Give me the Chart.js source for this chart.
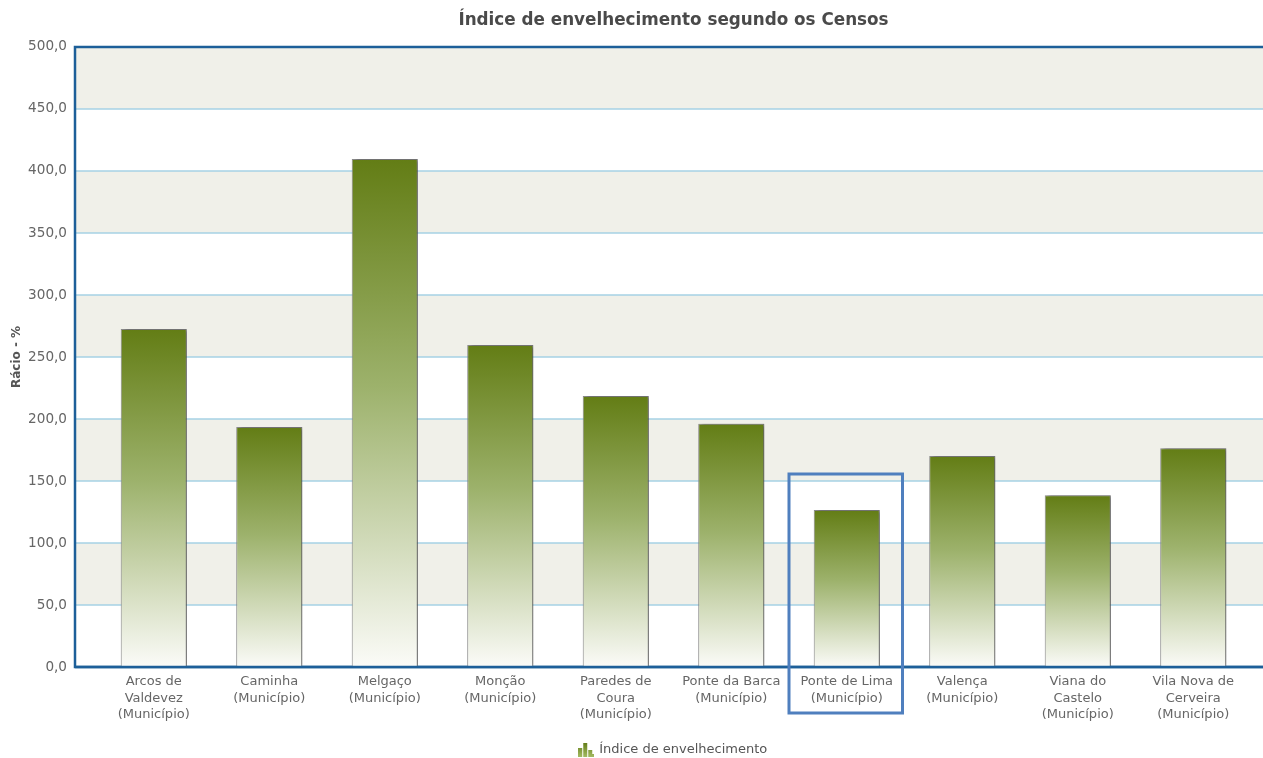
<!DOCTYPE html>
<html>
<head>
<meta charset="utf-8">
<title>Índice de envelhecimento segundo os Censos</title>
<script src="https://cdn.jsdelivr.net/npm/chart.js@4.4.1/dist/chart.umd.min.js"></script>
<style>
  html, body { margin: 0; padding: 0; background: #fff; }
  #wrap { width: 1263px; height: 758px; position: relative; }
</style>
</head>
<body>
<div id="wrap"><canvas id="chart"></canvas></div>
<script>
// data
const municipios = [
  ['Arcos de', 'Valdevez', '(Município)'],
  ['Caminha', '(Município)'],
  ['Melgaço', '(Município)'],
  ['Monção', '(Município)'],
  ['Paredes de', 'Coura', '(Município)'],
  ['Ponte da Barca', '(Município)'],
  ['Ponte de Lima', '(Município)'],
  ['Valença', '(Município)'],
  ['Viana do', 'Castelo', '(Município)'],
  ['Vila Nova de', 'Cerveira', '(Município)']
];
const indiceEnvelhecimento = [272.6, 193.5, 409.7, 259.7, 218.5, 196.2, 126.6, 170.2, 138.5, 176.4];
const yMin = 0;
const yMax = 500;
const yStep = 50;
const destaque = 6; // Ponte de Lima is boxed in blue

const FONT = '"DejaVu Sans", Verdana, sans-serif';
const TEXT_GREY = '#666666';

// frame sticks out a bit beyond the bars area
const frameLeft = 21;
const frameRight = 12;

// small bar-chart icon for the legend
function legendIcon() {
  const c = document.createElement('canvas');
  c.width = 16; c.height = 15;
  const g = c.getContext('2d');
  const grad = g.createLinearGradient(0, 0, 0, 15);
  grad.addColorStop(0, '#5f7a14');
  grad.addColorStop(1, '#a4bb62');
  g.fillStyle = grad;
  g.fillRect(0, 6, 4, 9);
  g.fillRect(5, 1, 4, 14);
  g.fillRect(10, 8, 4, 7);
  g.fillRect(14, 12, 2, 3);
  return c;
}

function barGradient(context) {
  const chart = context.chart;
  const {chartArea, scales} = chart;
  if (!chartArea || context.type !== 'data') return '#8ea25a';
  const top = scales.y.getPixelForValue(context.raw);
  const base = scales.y.getPixelForValue(0);
  const g = chart.ctx.createLinearGradient(0, top, 0, base);
  g.addColorStop(0, '#637d15');
  g.addColorStop(0.45, '#9db26c');
  g.addColorStop(1, '#fbfbf8');
  return g;
}

// bands, gridlines and the dark blue frame
const plotFrame = {
  id: 'plotFrame',
  beforeDatasetsDraw(chart) {
    const {ctx, chartArea, scales} = chart;
    const y = scales.y;
    const left = chartArea.left - frameLeft;
    const right = chartArea.right + frameRight;
    ctx.save();
    // alternating bands, beige on top
    for (let v = yMax, i = 0; v > yMin; v -= yStep, i++) {
      const t = y.getPixelForValue(v);
      const b = y.getPixelForValue(v - yStep);
      ctx.fillStyle = i % 2 === 0 ? '#f0f0e9' : '#ffffff';
      ctx.fillRect(left, t, right - left, b - t);
    }
    ctx.strokeStyle = '#a6d2e4';
    ctx.lineWidth = 1.6;
    for (let v = yMin + yStep; v < yMax; v += yStep) {
      const py = y.getPixelForValue(v);
      ctx.beginPath();
      ctx.moveTo(left, py);
      ctx.lineTo(right, py);
      ctx.stroke();
    }
    ctx.strokeStyle = '#1d5f99';
    ctx.lineWidth = 2.5;
    const top = y.getPixelForValue(yMax);
    const bottom = y.getPixelForValue(yMin);
    ctx.beginPath();
    ctx.moveTo(right, top);
    ctx.lineTo(left, top);
    ctx.lineTo(left, bottom);
    ctx.lineTo(right, bottom);
    ctx.stroke();
    ctx.restore();

    // soft shadow on the right of the bars
    ctx.save();
    ctx.shadowColor = 'rgba(0,0,0,0.45)';
    ctx.shadowBlur = 4;
    ctx.shadowOffsetX = 3;
    ctx.shadowOffsetY = 0;
  },
  afterDatasetsDraw(chart) {
    chart.ctx.restore();
    // redraw baseline over bar bottoms
    const {ctx, chartArea, scales} = chart;
    const bottom = scales.y.getPixelForValue(yMin);
    ctx.save();
    ctx.strokeStyle = '#1d5f99';
    ctx.lineWidth = 2.5;
    ctx.beginPath();
    ctx.moveTo(chartArea.left - frameLeft, bottom);
    ctx.lineTo(chartArea.right + frameRight, bottom);
    ctx.stroke();
    ctx.restore();
  },
  afterDraw(chart) {
    const {ctx, scales} = chart;
    const x = scales.x;
    const y = scales.y;
    const half = x.width / municipios.length / 2;
    const cx = x.getPixelForValue(destaque);
    const top = y.getPixelForValue(indiceEnvelhecimento[destaque]) - 36;
    const bottom = y.getPixelForValue(yMin) + 46;
    ctx.save();
    ctx.strokeStyle = '#4f7fbe';
    ctx.lineWidth = 3;
    ctx.strokeRect(cx - half + 0, top, half * 2 - 2, bottom - top);
    ctx.restore();
  }
};

new Chart(document.getElementById('chart'), {
  type: 'bar',
  data: {
    labels: municipios,
    datasets: [{
      label: 'Índice de envelhecimento',
      data: indiceEnvelhecimento,
      backgroundColor: barGradient,
      borderColor: '#8c8c8c',
      borderWidth: 1,
      categoryPercentage: 1,
      barPercentage: 0.572
    }]
  },
  options: {
    responsive: true,
    maintainAspectRatio: false,
    animation: false,
    layout: { padding: { top: 0, right: frameRight, bottom: 0, left: 0 } },
    plugins: {
      title: {
        display: true,
        fullSize: false,
        text: 'Índice de envelhecimento segundo os Censos',
        color: '#4a4a4a',
        font: { family: FONT, size: 16.8, weight: 'bold' },
        padding: { top: 11, bottom: 15.8 }
      },
      legend: {
        position: 'bottom',
        fullSize: false,
        maxHeight: 19,
        labels: {
          usePointStyle: true,
          pointStyle: legendIcon(),
          color: '#555555',
          font: { family: FONT, size: 13 },
          padding: 4
        }
      },
      tooltip: { enabled: false }
    },
    scales: {
      x: {
        grid: { display: false, drawTicks: false },
        border: { display: false },
        ticks: {
          color: TEXT_GREY,
          font: { family: FONT, size: 13, lineHeight: 1.24 },
          padding: 7,
          maxRotation: 0,
          autoSkip: false
        },
        afterFit(scale) { scale.height = 72; }
      },
      y: {
        min: yMin,
        max: yMax,
        grid: { display: false, drawTicks: false },
        border: { display: false },
        ticks: {
          stepSize: yStep,
          color: TEXT_GREY,
          font: { family: FONT, size: 13.6 },
          padding: 29,
          callback: v => v.toFixed(1).replace('.', ',')
        },
        title: {
          display: true,
          text: 'Rácio - %',
          color: '#555555',
          font: { family: FONT, size: 12, weight: 'bold' },
          padding: { top: 10, bottom: 0 }
        },
        afterFit(scale) { scale.width = 96; }
      }
    }
  },
  plugins: [plotFrame]
});
</script>
</body>
</html>
